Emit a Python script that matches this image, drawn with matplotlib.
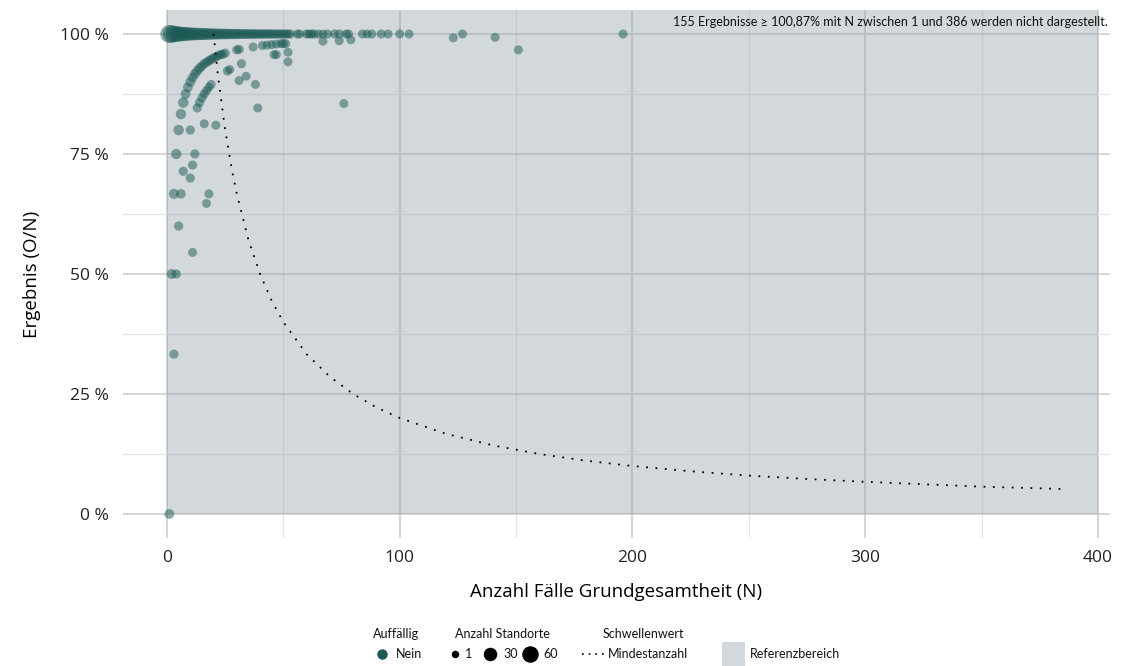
import matplotlib
matplotlib.use("Agg")
import matplotlib.pyplot as plt
from matplotlib.lines import Line2D
from matplotlib.patches import Rectangle
import numpy as np

# ---------------- data ----------------
# results at exactly 100 %
n_full = list(range(1, 54)) + [56, 57, 60, 61, 62, 63, 65, 67, 69, 72, 74, 77, 78,
                               84, 86, 88, 92, 95, 100, 104, 127, 196]
cnt_full = [60, 55, 48, 42, 38, 34, 31, 28, 26, 24,
            22, 20, 19, 18, 17, 16, 15, 14, 13, 12,
            11, 10, 10, 9, 9, 8, 8, 7, 7, 6,
            6, 5, 5, 5, 4, 4, 4, 4, 3, 3,
            3, 3, 3, 3, 3, 2, 2, 2, 2, 2,
            2, 2, 2] + [1, 1, 2, 1, 1, 2, 1, 1, 1, 1, 2, 1, 1,
                        1, 1, 1, 1, 1, 1, 1, 1, 1]

# results below 100 %
n_other = [8, 9, 10, 11, 12, 13, 14, 15, 16, 17, 18, 19, 20, 21, 22, 23, 24, 25,
           30, 31, 37, 41, 43, 45, 47, 49, 50, 51,
           13, 14, 15, 16, 17, 18, 19,
           46, 47, 52, 52, 32, 26, 27, 31, 34, 38, 39, 76, 67, 74, 79, 123, 141, 151,
           7, 6, 5, 4, 3, 2, 1, 3, 4, 6, 5, 7, 10, 10, 11, 12, 11, 17, 18, 16, 21]
pct_other = [87.5, 88.9, 90.0, 90.9, 91.7, 92.3, 92.9, 93.3, 93.8, 94.1, 94.4, 94.7, 95.0,
             95.2, 95.5, 95.7, 95.8, 96.0,
             96.7, 96.8, 97.3, 97.6, 97.7, 97.8, 97.9, 98.0, 98.0, 98.0,
             84.6, 85.7, 86.7, 87.5, 88.2, 88.9, 89.5,
             95.7, 95.7, 96.2, 94.2, 93.8, 92.3, 92.6, 90.3, 91.2, 89.5, 84.6, 85.5,
             98.5, 98.6, 98.8, 99.2, 99.3, 96.7,
             85.7, 83.3, 80.0, 75.0, 66.7, 50.0, 0.0, 33.3, 50.0, 66.7, 60.0, 71.4,
             80.0, 70.0, 72.7, 75.0, 54.5, 64.7, 66.7, 81.3, 81.0]
cnt_other = [5, 5, 5, 4, 4, 4, 4, 3, 3, 3, 3, 3, 3, 2, 2, 2, 2, 2,
             2, 2, 1, 1, 1, 1, 1, 1, 1, 1,
             2, 2, 2, 2, 1, 1, 1,
             1, 1, 1, 1, 2, 2, 1, 1, 1, 1, 1, 1, 1, 1, 1, 1, 1, 1,
             8, 8, 8, 7, 6, 5, 5, 2, 2, 3, 2, 2,
             2, 2, 2, 2, 1, 1, 1, 1, 1]

# threshold line (Mindestanzahl)
n_thr = [20, 22, 25, 28, 30, 35, 40, 45, 50, 60, 70, 80, 90, 100, 120, 140, 160,
         180, 200, 225, 250, 275, 300, 325, 350, 386]
pct_thr = [100.0, 90.9, 80.0, 71.4, 66.7, 57.1, 50.0, 44.4, 40.0, 33.3, 28.6, 25.0,
           22.2, 20.0, 16.7, 14.3, 12.5, 11.1, 10.0, 8.9, 8.0, 7.3, 6.7, 6.2, 5.7, 5.2]

x_ticks = [0, 100, 200, 300, 400]
y_ticks = [0, 25, 50, 75, 100]
y_ticklabels = ["0 %", "25 %", "50 %", "75 %", "100 %"]

ref_x = (0, 400)
ref_y = (0, 105)

note = "155 Ergebnisse \u2265 100,87% mit N zwischen 1 und 386 werden nicht dargestellt."

# ---------------- style ----------------
TEAL = "#1b5a55"
FONT = ["Open Sans", "DejaVu Sans"]
SMALL = ["Lato", "DejaVu Sans"]
plt.rcParams["font.family"] = FONT


def size_of(v):
    d_px = np.sqrt(81 + (np.asarray(v, float) - 1) * (243 / 59))
    return (d_px * 0.72) ** 2


fig = plt.figure(figsize=(11.22, 6.66), dpi=100)
ax = fig.add_axes([123 / 1122, 1 - 538 / 666, (1110 - 123) / 1122, (538 - 10) / 666])

ax.set_xlim(-18.9, 405.2)
ax.set_ylim(-5, 105)

# grid
ax.set_axisbelow(True)
ax.set_xticks(x_ticks)
ax.set_yticks(y_ticks)
ax.set_yticklabels(y_ticklabels)
ax.set_xticks([50, 150, 250, 350], minor=True)
ax.set_yticks([12.5, 37.5, 62.5, 87.5], minor=True)
ax.grid(True, which="major", color="#c9c9c9", lw=1.1)
ax.grid(True, which="minor", color="#e6e6e6", lw=0.9)
ax.tick_params(which="both", length=0, labelsize=12.5, colors="#222222", pad=9)
ax.tick_params(axis="y", pad=10)
for s in ax.spines.values():
    s.set_visible(False)

# reference area
ax.add_patch(Rectangle((ref_x[0], ref_y[0]), ref_x[1] - ref_x[0], ref_y[1] - ref_y[0],
                       facecolor="#919ea7", alpha=0.4, edgecolor="none", zorder=1))

# points
ax.scatter(n_full, [100] * len(n_full), s=size_of(cnt_full), color=TEAL, alpha=0.5,
           edgecolors="none", zorder=3)
ax.scatter(n_other, pct_other, s=size_of(cnt_other), color=TEAL, alpha=0.5,
           edgecolors="none", zorder=3)

# threshold line
ax.plot(n_thr, pct_thr, color="black", lw=1.3, linestyle=(0, (1, 4.2)), zorder=4)

ax.text(0.9975, 0.988, note, transform=ax.transAxes, ha="right", va="top",
        fontsize=9, family=SMALL, color="#111111", zorder=5)

ax.set_xlabel("Anzahl Fälle Grundgesamtheit (N)", fontsize=13.5, labelpad=12)
ax.set_ylabel("Ergebnis (O/N)", fontsize=13.5, labelpad=14)


# ---------------- legend (manual) ----------------
def fx(px):
    return px / 1122


def fy(py):
    return 1 - py / 666


ty, ey = 634, 654
lf = dict(fontsize=9, family=SMALL, color="#111111", va="center")
fig.text(fx(373), fy(ty), "Auffällig", ha="left", **lf)
fig.add_artist(Line2D([fx(382)], [fy(ey)], marker="o", markersize=7.5, color=TEAL,
                      markeredgewidth=0, linestyle="none"))
fig.text(fx(396), fy(ey), "Nein", ha="left", **lf)

fig.text(fx(455), fy(ty), "Anzahl Standorte", ha="left", **lf)
for px, d_px, lab, lx in [(455, 7.5, "1", 465), (490, 13.5, "30", 503), (530, 16.5, "60", 543)]:
    fig.add_artist(Line2D([fx(px)], [fy(ey)], marker="o", markersize=d_px * 0.72,
                          color="black", markeredgewidth=0, linestyle="none"))
    fig.text(fx(lx), fy(ey), lab, ha="left", **lf)

fig.text(fx(603), fy(ty), "Schwellenwert", ha="left", **lf)
fig.add_artist(Line2D([fx(582), fx(606)], [fy(ey), fy(ey)], color="black", lw=1.2,
                      linestyle=(0, (1, 3))))
fig.text(fx(608), fy(ey), "Mindestanzahl", ha="left", **lf)

fig.add_artist(Rectangle((fx(722), fy(666)), fx(23), 24 / 666, facecolor="#d3d8dc",
                         edgecolor="none", transform=fig.transFigure))
fig.text(fx(750), fy(ey), "Referenzbereich", ha="left", **lf)

fig.savefig("out.png", dpi=100)
